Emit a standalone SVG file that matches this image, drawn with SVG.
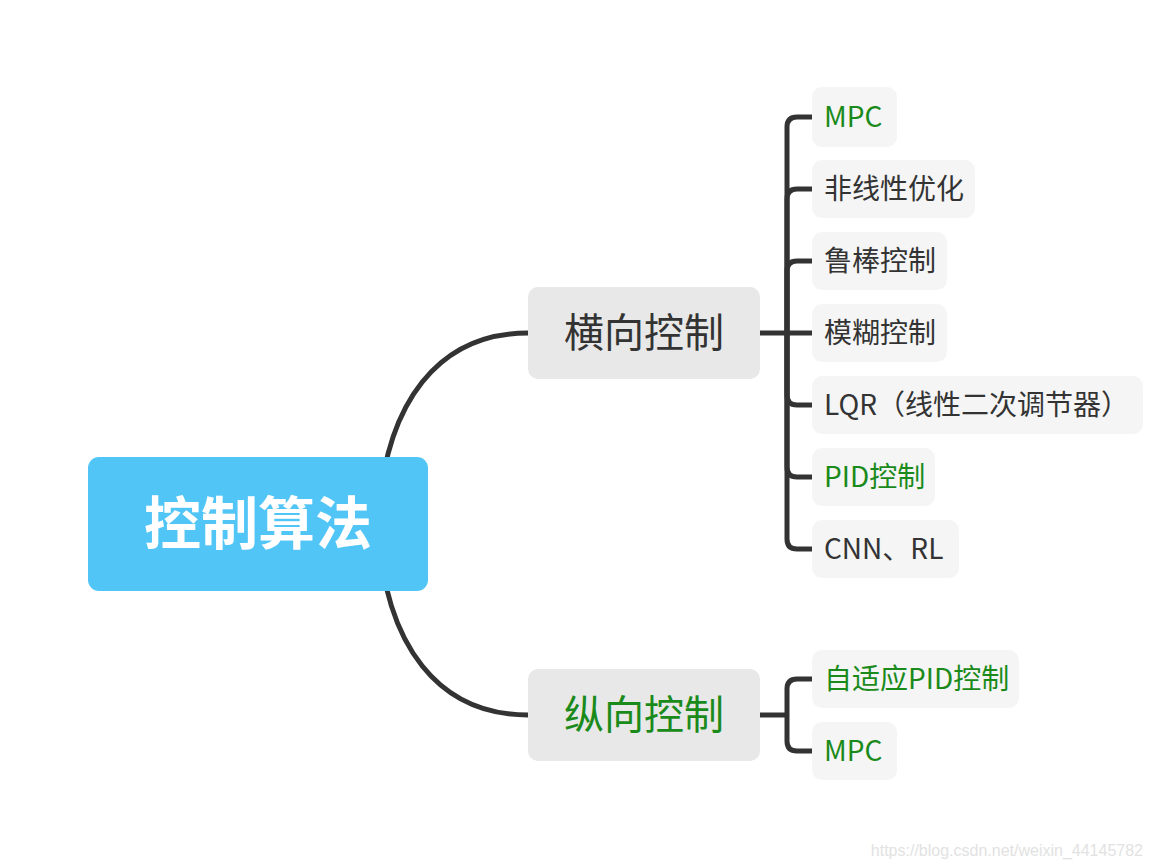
<svg xmlns="http://www.w3.org/2000/svg" width="1153" height="868" viewBox="0 0 1153 868">
<style>
.c{fill:none;stroke:#333;stroke-width:5;stroke-linecap:butt}
.leaf{fill:#F5F5F5}
.l1{fill:#E8E8E8}
.t{font-family:"Noto Sans CJK SC","Noto Sans",sans-serif;fill:#333}
.g{fill:#1A8A1A}
.lt{font-size:28px}
.l1t{font-size:40px;text-anchor:middle}
</style>
<rect width="1153" height="868" fill="#fff"/>
<g id="connectors">
<path class="c" d="M 378 524 C 384 400 440 333 528 333"/>
<path class="c" d="M 378 524 C 384 648 440 715 528 715"/>
<path class="c" d="M 760 333 H 787"/>
<path class="c" d="M 787 333 V 127 Q 787 117 797 117 H 812"/>
<path class="c" d="M 787 333 V 199 Q 787 189 797 189 H 812"/>
<path class="c" d="M 787 333 V 271 Q 787 261 797 261 H 812"/>
<path class="c" d="M 787 333 H 812"/>
<path class="c" d="M 787 333 V 395 Q 787 405 797 405 H 812"/>
<path class="c" d="M 787 333 V 467 Q 787 477 797 477 H 812"/>
<path class="c" d="M 787 333 V 539 Q 787 549 797 549 H 812"/>
<path class="c" d="M 760 715 H 787"/>
<path class="c" d="M 787 715 V 689 Q 787 679 797 679 H 812"/>
<path class="c" d="M 787 715 V 741 Q 787 751 797 751 H 812"/>
</g>
<g id="root">
<rect x="88" y="457" width="340" height="134" rx="11" fill="#52C5F7"/>
<text class="t" x="258" y="544" font-size="57" font-weight="bold" text-anchor="middle" style="fill:#fff">控制算法</text>
</g>
<g id="n-heng">
<rect class="l1" x="528" y="287" width="232" height="92" rx="10"/>
<text class="t l1t" x="644" y="347">横向控制</text>
</g>
<g id="n-zong">
<rect class="l1" x="528" y="669" width="232" height="92" rx="10"/>
<text class="t l1t g" x="644" y="729">纵向控制</text>
</g>
<g id="leaf-mpc1">
<rect class="leaf" x="812" y="87" width="85" height="60" rx="10"/>
<text class="t lt g" x="824" y="127">MPC</text>
</g>
<g id="leaf-nonlinear">
<rect class="leaf" x="812" y="160" width="163" height="58" rx="10"/>
<text class="t lt" x="824" y="199">非线性优化</text>
</g>
<g id="leaf-robust">
<rect class="leaf" x="812" y="232" width="135" height="58" rx="10"/>
<text class="t lt" x="824" y="271">鲁棒控制</text>
</g>
<g id="leaf-fuzzy">
<rect class="leaf" x="812" y="304" width="135" height="58" rx="10"/>
<text class="t lt" x="824" y="343">模糊控制</text>
</g>
<g id="leaf-lqr">
<rect class="leaf" x="812" y="376" width="331" height="58" rx="10"/>
<text class="t lt" x="824" y="415">LQR（线性二次调节器）</text>
</g>
<g id="leaf-pid">
<rect class="leaf" x="812" y="448" width="123" height="58" rx="10"/>
<text class="t lt g" x="824" y="487">PID控制</text>
</g>
<g id="leaf-cnn">
<rect class="leaf" x="812" y="520" width="147" height="58" rx="10"/>
<text class="t lt" x="824" y="559">CNN、RL</text>
</g>
<g id="leaf-adaptive">
<rect class="leaf" x="812" y="650" width="207" height="58" rx="10"/>
<text class="t lt g" x="824" y="689">自适应PID控制</text>
</g>
<g id="leaf-mpc2">
<rect class="leaf" x="812" y="722" width="85" height="58" rx="10"/>
<text class="t lt g" x="824" y="761">MPC</text>
</g>
<text x="1143" y="856" font-family="Liberation Sans, Arial, sans-serif" font-size="16" fill="#E2E2E2" text-anchor="end">https://blog.csdn.net/weixin_44145782</text>
</svg>
